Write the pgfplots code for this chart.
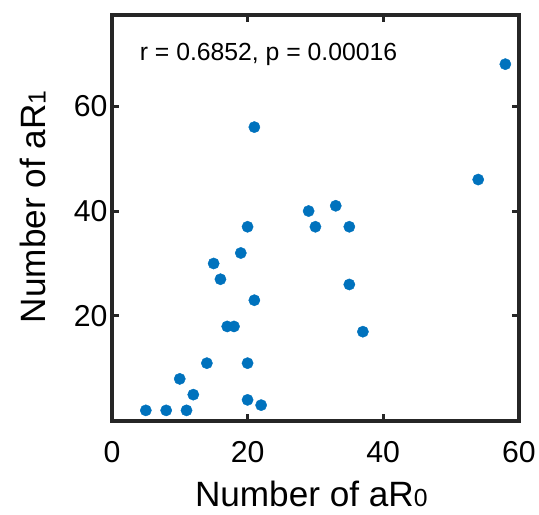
\documentclass[border=0pt]{standalone}
\usepackage{pgfplots}
\pgfplotsset{compat=1.18}
\usepackage{fontspec}
\setmainfont{Liberation Sans}
\definecolor{mblue}{RGB}{0,114,189}
\definecolor{axgray}{RGB}{38,38,38}
\newcommand{\sub}[1]{{\fontsize{25}{30}\selectfont #1}}
\begin{document}
\begin{tikzpicture}
\begin{axis}[
    scale only axis,
    width=411pt, height=410pt,
    xmin=0, xmax=60, ymin=0, ymax=77.4,
    xtick={0,20,40,60}, ytick={20,40,60},
    axis line style={line width=3.5pt, color=axgray},
    tick style={line width=3pt, color=axgray},
    major tick length=7pt, tick align=inside,
    /pgf/number format/assume math mode=true,
    ticklabel style={font=\fontsize{30.5}{36}\selectfont, text=black},
    xticklabel style={yshift=-17pt},
    yticklabel style={xshift=-1pt},
    xlabel={Number of aR\sub{0}},
    ylabel={Number of aR\sub{1}},
    label style={font=\fontsize{35.5}{42}\selectfont, text=black},
    xlabel style={at={(rel axis cs:0.49,-0.21)}, anchor=base},
    ylabel style={at={(rel axis cs:-0.163,0.527)}, anchor=base},
]
\addplot[only marks, mark=*, mark size=5.7pt, mark options={fill=mblue, draw=mblue}]
coordinates {
    (58,68) (21,56) (54,46) (29,40) (33,41) (20,37) (30,37) (35,37)
    (19,32) (15,30) (16,27) (35,26) (21,23) (17,18) (18,18) (37,17)
    (14,11) (20,11) (10,8) (12,5) (20,4) (22,3) (5,2) (8,2) (11,2)
};
\node[anchor=base west, font=\fontsize{25}{30}\selectfont] at (axis cs:3.6,68.7) {r = 0.6852, p = 0.00016};
\coordinate (sw) at (rel axis cs:0,0);
\coordinate (ne) at (rel axis cs:1,1);
\end{axis}
\path (sw) ++(-113pt,-95pt) (ne) ++(15pt,15pt);
\end{tikzpicture}
\end{document}
